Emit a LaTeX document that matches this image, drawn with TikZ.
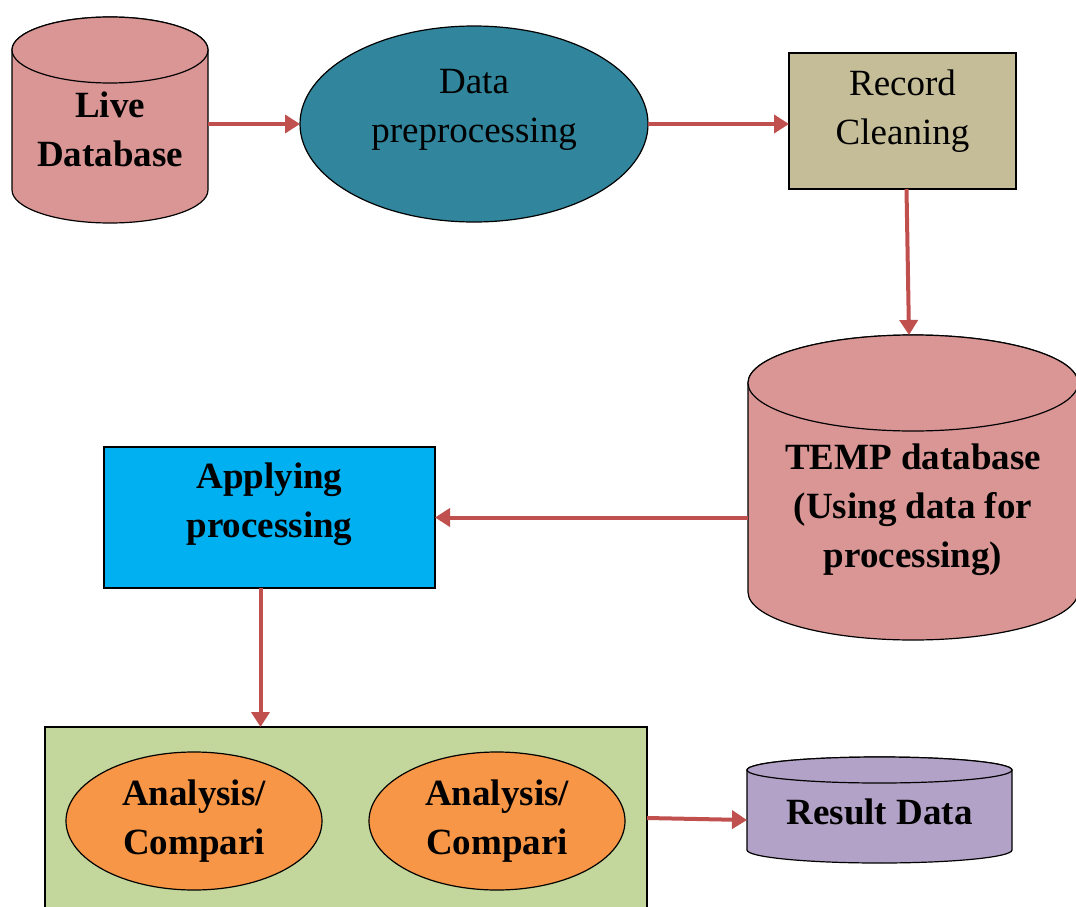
\documentclass[tikz,border=0pt]{standalone}
\usepackage{fontspec}
\setmainfont{Liberation Serif}
\usetikzlibrary{arrows.meta,shapes.geometric,positioning,backgrounds}

\definecolor{dbpink}{HTML}{D99694}
\definecolor{prepteal}{HTML}{31859C}
\definecolor{cleantan}{HTML}{C4BD97}
\definecolor{applyblue}{HTML}{00B0F0}
\definecolor{grpgreen}{HTML}{C3D69B}
\definecolor{anaorange}{HTML}{F79646}
\definecolor{respurple}{HTML}{B3A2C7}
\definecolor{arrowred}{HTML}{C0504D}

\tikzset{
  flow/.style={draw=arrowred, line width=4pt, -{Triangle[length=15pt,width=18pt]}},
  box/.style={draw=black, line width=1.2pt, inner sep=0pt, outer sep=0pt},
  frame/.style={inner sep=0pt, outer sep=0pt},
  txt/.style={font=\fontsize{37}{49}\selectfont, align=center},
  txtb/.style={font=\fontsize{37}{49}\selectfont\bfseries, align=center},
}

% cylinder drawn round a frame node: node, x radius, y radius, fill
\newcommand{\dbcyl}[4]{%
  \draw[fill=#4, line width=1.2pt] ([yshift=-#3]#1.north west) -- ([yshift=#3]#1.south west)
    arc[start angle=180, end angle=360, x radius=#2, y radius=#3]
    -- ([yshift=-#3]#1.north east)
    arc[start angle=0, end angle=180, x radius=#2, y radius=#3] -- cycle;
  \draw[fill=#4, line width=1.2pt] ([yshift=-#3]#1.north) ellipse[x radius=#2, y radius=#3];
}

\begin{document}
\begin{tikzpicture}[x=1pt,y=1pt]
  \useasboundingbox (0,0) rectangle (1076,-907);

  % top row
  \node[frame, minimum width=196pt, minimum height=206pt,
        label={[txtb,yshift=-9pt]center:Live\\Database}] (live) at (110,-120) {};
  \node[box, ellipse, fill=prepteal, minimum width=348pt, minimum height=196pt,
        label={[txt,yshift=14pt]center:Data\\preprocessing}] (prep) at (474,-124) {};
  \node[box, fill=cleantan, minimum width=227pt, minimum height=136pt,
        label={[txt,yshift=10pt]center:Record\\Cleaning}] (rec) at (902.5,-121) {};

  % middle row
  \node[frame, minimum width=330pt, minimum height=305pt,
        label={[txtb,yshift=-22pt]center:TEMP database\\(Using data for\\processing)}] (temp) at (913,-487.5) {};
  \node[box, fill=applyblue, minimum width=331pt, minimum height=141pt,
        label={[txtb,yshift=13pt]center:Applying\\processing}] (apply) at (269.5,-517.5) {};

  % bottom row
  \node[box, fill=grpgreen, minimum width=602pt, minimum height=240pt] (grp) at (346,-847) {};
  \node[box, ellipse, fill=anaorange, minimum width=256pt, minimum height=138pt, txtb] (ana1) at (194,-821) {Analysis/\\Compari};
  \node[box, ellipse, fill=anaorange, minimum width=256pt, minimum height=138pt, txtb] (ana2) at (497,-821) {Analysis/\\Compari};
  \node[frame, minimum width=265pt, minimum height=106pt,
        label={[txtb,yshift=-2pt]center:Result Data}] (res) at (879.5,-810) {};

  \begin{pgfonlayer}{background}
    \dbcyl{live}{98pt}{33pt}{dbpink}
    \dbcyl{temp}{165pt}{48pt}{dbpink}
    \dbcyl{res}{132.5pt}{13pt}{respurple}
  \end{pgfonlayer}

  % connectors
  \draw[flow] (live.east |- prep.west) -- (prep.west);
  \draw[flow] (prep.east) -- (prep.east -| rec.west);
  \draw[flow] ([xshift=4pt]rec.south) -- ([xshift=-4pt]temp.north);
  \draw[flow] (temp.west |- apply.east) -- (apply.east);
  \draw[flow] ([xshift=-9pt]apply.south) -- ([xshift=-9pt]apply.south |- grp.north);
  \draw[flow] ([yshift=-8pt]res.west -| grp.east) -- ([yshift=-10pt]res.west);
\end{tikzpicture}
\end{document}
